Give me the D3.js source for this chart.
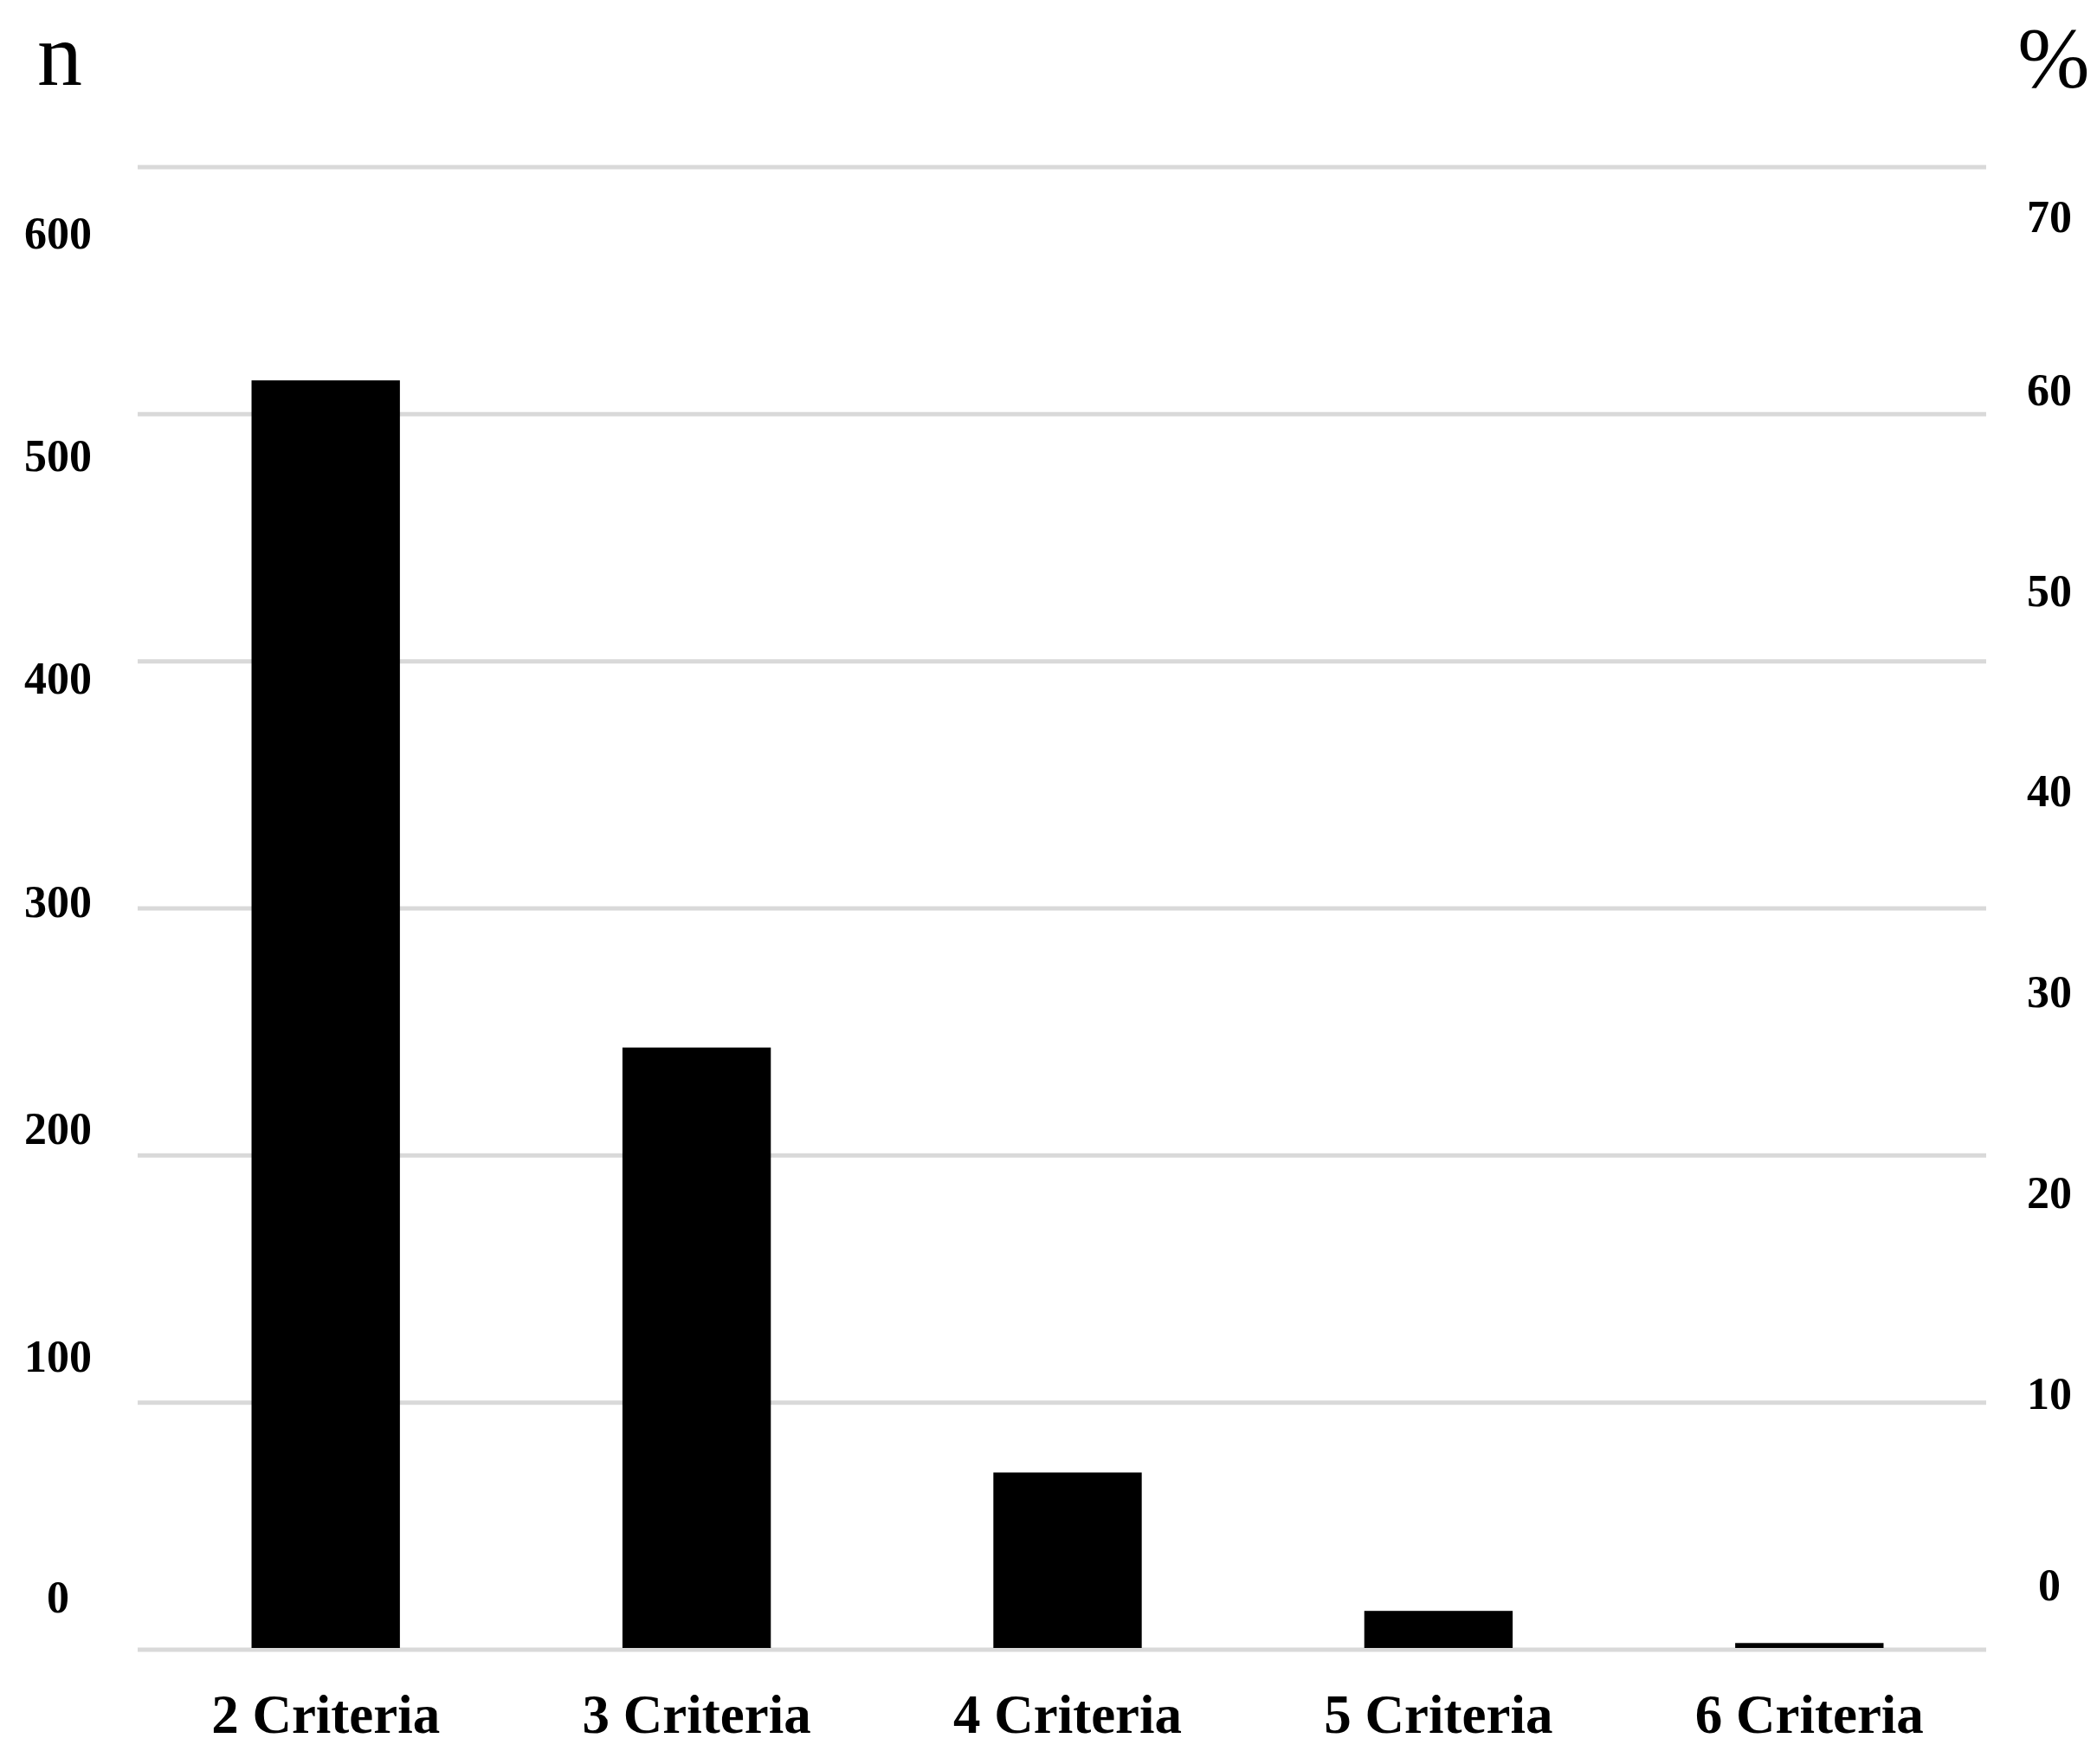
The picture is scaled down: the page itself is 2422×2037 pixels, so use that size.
<!DOCTYPE html>
<html>
<head>
<meta charset="utf-8">
<script src="https://cdn.jsdelivr.net/npm/d3@7"></script>
<style>
  body { margin: 0; background: #fff; }
  text { font-family: "Liberation Serif", "Times New Roman", serif; fill: #000; }
</style>
</head>
<body>
<svg width="2422" height="2037"></svg>
<script>
var categories = ['2 Criteria', '3 Criteria', '4 Criteria', '5 Criteria', '6 Criteria'];
var counts = [513, 243, 71, 15, 2];
var nTicks = [0, 100, 200, 300, 400, 500, 600];
var pctTicks = [0, 10, 20, 30, 40, 50, 60, 70];

var svg = d3.select("svg");

// plot area
var gridLeft = 159, gridRight = 2294;

var x = d3.scaleBand()
    .domain(categories)
    .range([162, 2304])
    .paddingInner(0.6)
    .paddingOuter(0.3);

var y = d3.scaleLinear()
    .domain([0, 600])
    .range([1903, 191]);

// the tick labels in the original are not aligned to the gridlines,
// so they get their own (piecewise) scales
var nLabel = d3.scaleLinear()
    .domain([0, 100, 300, 600])
    .range([1843, 1565, 1040, 268]);

var pctLabel = d3.scaleLinear()
    .domain([0, 10, 60, 70])
    .range([1829, 1608, 449, 249]);

// gridlines
svg.append("g")
  .selectAll("line")
  .data(nTicks)
  .enter().append("line")
    .attr("x1", gridLeft)
    .attr("x2", gridRight)
    .attr("y1", function(d) { return y(d) + 2; })
    .attr("y2", function(d) { return y(d) + 2; })
    .attr("stroke", "#d9d9d9")
    .attr("stroke-width", 5);

// bars
svg.append("g")
  .selectAll("rect")
  .data(counts)
  .enter().append("rect")
    .attr("x", function(d, i) { return x(categories[i]); })
    .attr("y", function(d) { return y(d); })
    .attr("width", x.bandwidth())
    .attr("height", function(d) { return y(0) - y(d); })
    .attr("fill", "#000");

// left axis (n)
var left = svg.append("g")
    .attr("transform", "translate(67,0)")
    .call(d3.axisLeft(nLabel).tickValues(nTicks).tickSize(0).tickPadding(0));
left.select(".domain").remove();
left.selectAll("text")
    .attr("x", 0)
    .attr("dy", "0.35em")
    .attr("text-anchor", "middle")
    .style("font-family", "Liberation Serif")
    .style("font-size", "52px")
    .style("font-weight", "bold");

// right axis (%)
var right = svg.append("g")
    .attr("transform", "translate(2367,0)")
    .call(d3.axisRight(pctLabel).tickValues(pctTicks).tickSize(0).tickPadding(0));
right.select(".domain").remove();
right.selectAll("text")
    .attr("x", 0)
    .attr("dy", "0.35em")
    .attr("text-anchor", "middle")
    .style("font-family", "Liberation Serif")
    .style("font-size", "52px")
    .style("font-weight", "bold");

// category axis
var bottom = svg.append("g")
    .attr("transform", "translate(0,1905)")
    .call(d3.axisBottom(x).tickSize(0).tickPadding(0));
bottom.select(".domain").remove();
bottom.selectAll("text")
    .attr("y", 0)
    .attr("dy", 96)
    .style("font-family", "Liberation Serif")
    .style("font-size", "63px")
    .style("font-weight", "bold");

// axis titles
svg.append("text")
    .attr("x", 69)
    .attr("y", 98)
    .attr("text-anchor", "middle")
    .style("font-size", "104px")
    .text("n");

svg.append("text")
    .attr("x", 2372)
    .attr("y", 100)
    .attr("text-anchor", "middle")
    .style("font-size", "100px")
    .text("%");
</script>
</body>
</html>
